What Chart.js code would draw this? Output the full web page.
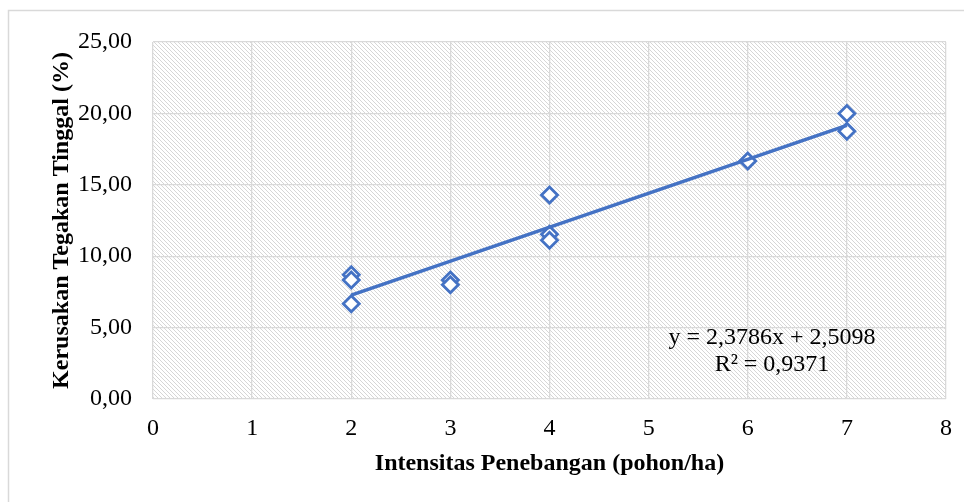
<!DOCTYPE html>
<html>
<head>
<meta charset="utf-8">
<script src="https://cdn.jsdelivr.net/npm/chart.js@4/dist/chart.umd.min.js"></script>
<style>
  html, body { margin: 0; padding: 0; background: #fff; }
  #wrap { width: 964px; height: 502px; position: relative; }
</style>
</head>
<body>
<div id="wrap"><canvas id="grafik"></canvas></div>
<script>
// data titik (intensitas vs kerusakan)
const intensitas = [2, 2, 2, 3, 3, 4, 4, 4, 6, 7, 7];
const kerusakan = [8.70, 8.33, 6.67, 8.33, 8.00, 14.29, 11.54, 11.11, 16.67, 20.00, 18.75];

// garis tren (ujung-ujungnya)
const trenX = [2, 7];
const trenY = [7.27, 19.16];

const xTicks = ["0", "1", "2", "3", "4", "5", "6", "7", "8"];
const yTicks = ["0,00", "5,00", "10,00", "15,00", "20,00", "25,00"];

const persamaan = ["y = 2,3786x + 2,5098", "R² = 0,9371"];

const biru = "#4472C4";
const abu = "#d9d9d9";
const fontSerif = "'Liberation Serif', 'Times New Roman', serif";

// pola garis miring untuk area plot
function buatPola() {
    const c = document.createElement("canvas");
    c.width = 8; c.height = 8;
    const g = c.getContext("2d");
    g.fillStyle = "#fff";
    g.fillRect(0, 0, 8, 8);
    g.fillStyle = "#d6d6d6";
    for (let y = 0; y < 8; y++) {
        for (let x = 0; x < 8; x++) {
            if (((x - y) % 4 + 4) % 4 === 0) g.fillRect(x, y, 1, 1);
        }
    }
    return g.createPattern(c, "repeat");
}

const latarPlot = {
    id: "latarPlot",
    beforeDraw(chart) {
        const { ctx, chartArea: a } = chart;
        ctx.save();
        ctx.strokeStyle = abu;
        ctx.lineWidth = 1.5;
        ctx.strokeRect(8.5, 10.5, 980, 520);
        ctx.fillStyle = buatPola();
        ctx.fillRect(a.left, a.top, a.right - a.left, a.bottom - a.top);
        ctx.restore();
    },
    afterDraw(chart) {
        const { ctx, chartArea: a } = chart;
        ctx.save();
        ctx.font = "24px " + fontSerif;
        ctx.fillStyle = "#000";
        ctx.textAlign = "center";
        ctx.textBaseline = "middle";
        ctx.fillText(persamaan[0], a.right - 174, a.bottom - 61);
        ctx.fillText(persamaan[1], a.right - 174, a.bottom - 34);
        ctx.restore();
    }
};

const titik = intensitas.map((x, i) => ({ x, y: kerusakan[i] }));
const tren = trenX.map((x, i) => ({ x, y: trenY[i] }));

new Chart(document.getElementById("grafik"), {
    type: "scatter",
    data: {
        datasets: [
            {
                label: "Tren",
                data: tren,
                showLine: true,
                borderColor: biru,
                borderWidth: 3.5,
                pointRadius: 0,
                order: 0
            },
            {
                label: "Kerusakan",
                data: titik,
                pointStyle: "rectRot",
                pointRadius: 8,
                borderWidth: 2.8,
                borderColor: biru,
                backgroundColor: "#fff",
                order: 1
            }
        ]
    },
    options: {
        responsive: true,
        maintainAspectRatio: false,
        animation: false,
        layout: { padding: { top: 42, right: 18, left: 0, bottom: 0 } },
        plugins: {
            legend: { display: false },
            tooltip: { enabled: false }
        },
        scales: {
            x: {
                type: "linear",
                min: 0,
                max: 8,
                afterFit(s) {
                    s.height = 103;
                    s.paddingLeft = 0;
                    s.paddingRight = 0;
                },
                ticks: {
                    stepSize: 1,
                    padding: 15,
                    color: "#000",
                    font: { family: fontSerif, size: 24 },
                    callback: (v, i) => xTicks[i]
                },
                grid: { color: abu, lineWidth: 1.3, drawTicks: false },
                border: { display: false },
                title: {
                    display: true,
                    text: "Intensitas Penebangan (pohon/ha)",
                    color: "#000",
                    font: { family: fontSerif, size: 24, weight: "bold", lineHeight: 1.2 },
                    padding: { bottom: 24 }
                }
            },
            y: {
                min: 0,
                max: 25,
                afterFit(s) { s.width = 153; },
                ticks: {
                    stepSize: 5,
                    padding: 21,
                    color: "#000",
                    font: { family: fontSerif, size: 24 },
                    callback: (v, i) => yTicks[i]
                },
                grid: { color: abu, lineWidth: 1.3, drawTicks: false },
                border: { display: false },
                title: {
                    display: true,
                    text: "Kerusakan Tegakan Tinggal (%)",
                    color: "#000",
                    font: { family: fontSerif, size: 24, weight: "bold", lineHeight: 1.2 },
                    padding: { top: 47 }
                }
            }
        }
    },
    plugins: [latarPlot]
});
</script>
</body>
</html>
